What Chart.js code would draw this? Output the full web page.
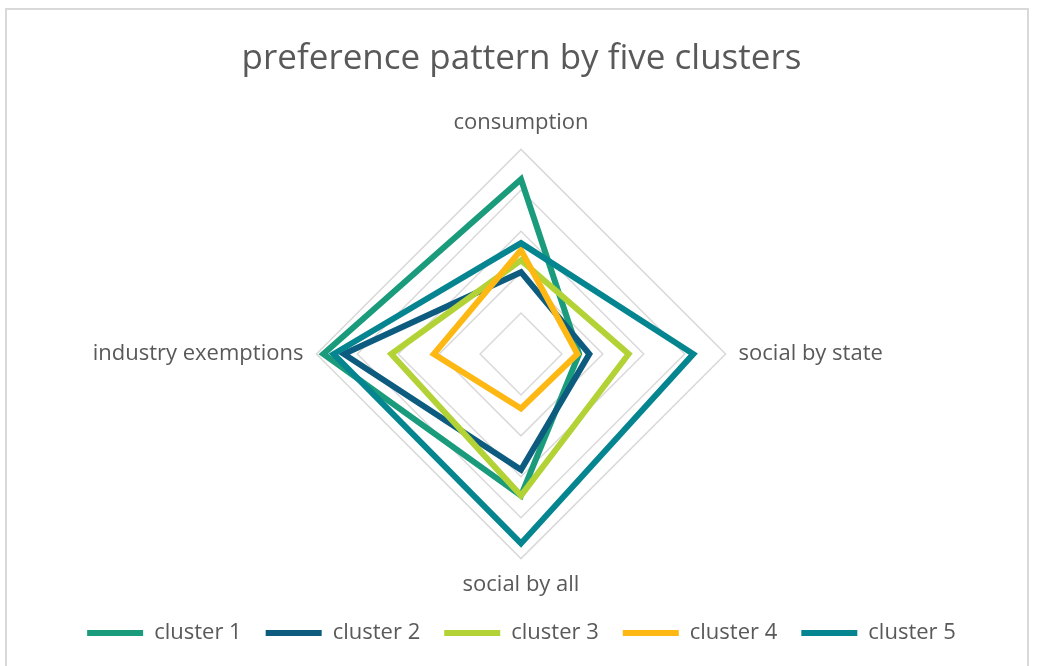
<!DOCTYPE html>
<html>
<head>
<meta charset="utf-8">
<script src="https://cdn.jsdelivr.net/npm/chart.js@4.4.1/dist/chart.umd.min.js"></script>
<style>
	body { margin: 0; background: #fff; }
	#frame { position: absolute; left: 5px; top: 8px; width: 1024px; height: 680px; border: 2px solid #d9d9d9; box-sizing: border-box; }
	#wrap { position: absolute; left: 5px; top: 8px; width: 1026px; height: 658px; }
</style>
</head>
<body>
<div id="frame"></div>
<div id="wrap"><canvas id="myChart"></canvas></div>
<script>
let axes = ['consumption', 'social by state', 'social by all', 'industry exemptions'];
let cluster1 = [4.27, 1.42, 3.46, 4.83];
let cluster2 = [2.0, 1.67, 2.83, 4.33];
let cluster3 = [2.29, 2.63, 3.46, 3.17];
let cluster4 = [2.54, 1.38, 1.33, 2.13];
let cluster5 = [2.71, 4.21, 4.63, 4.58];
let names = ['cluster 1', 'cluster 2', 'cluster 3', 'cluster 4', 'cluster 5'];
let colors = ['#1A9C7C', '#0D5C80', '#B2D235', '#FDB813', '#05858F'];

function createRadarChart(elID, labels, series) {
	let ctx = document.getElementById(elID).getContext('2d');
	let datasets = series.map(function (data, i) {
		return {
			label: names[i],
			data: data,
			borderColor: colors[i],
			backgroundColor: colors[i],
			borderWidth: 6,
			borderCapStyle: 'round',
			borderJoinStyle: 'miter',
			fill: false,
			pointRadius: 0,
			tension: 0,
			order: series.length - i
		};
	});

	return new Chart(ctx, {
		type: 'radar',
		data: { labels: labels, datasets: datasets },
		options: {
			responsive: true,
			maintainAspectRatio: false,
			animation: false,
			layout: { padding: { left: 7, right: 0, top: 0, bottom: 12 } },
			plugins: {
				title: {
					display: true,
					text: 'preference pattern by five clusters',
					color: '#595959',
					font: { family: 'Open Sans', size: 35, weight: 'normal' },
					padding: { top: 30, bottom: 30 }
				},
				legend: {
					position: 'bottom',
					labels: {
						usePointStyle: true,
						pointStyle: 'line',
						pointStyleWidth: 56,
						color: '#595959',
						font: { family: 'Open Sans', size: 22 },
						padding: 24,
						sort: function (a, b) { return a.datasetIndex - b.datasetIndex; }
					}
				},
				tooltip: { enabled: false }
			},
			scales: {
				r: {
					min: 0,
					max: 5,
					ticks: { stepSize: 1, display: false },
					grid: { color: '#d9d9d9', lineWidth: 1.5 },
					angleLines: { display: false },
					pointLabels: {
						color: '#595959',
						padding: 13,
						font: { family: 'Open Sans', size: 22 }
					}
				}
			}
		}
	});
}

createRadarChart('myChart', axes, [cluster1, cluster2, cluster3, cluster4, cluster5]);
</script>
</body>
</html>
